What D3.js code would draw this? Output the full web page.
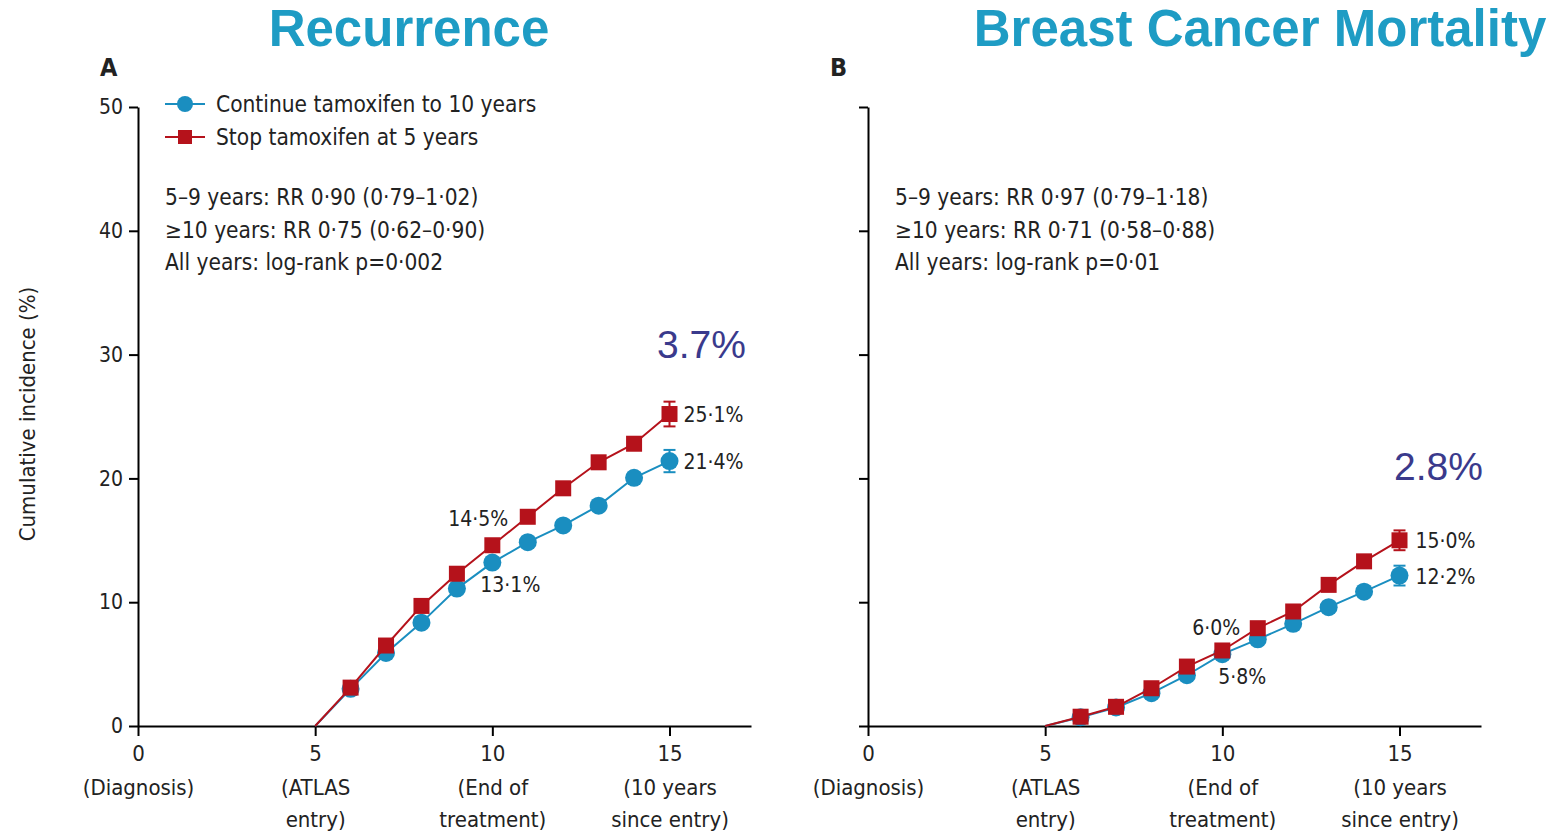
<!DOCTYPE html>
<html>
<head>
<meta charset="utf-8">
<script src="https://cdn.jsdelivr.net/npm/d3@7"></script>
<style>
  body { margin: 0; background: #fff; }
  svg text { font-family: "Liberation Sans Narrow", "DejaVu Sans Condensed", sans-serif; fill: #222; }
  .title { font-family: "Liberation Sans", Arial, sans-serif !important; font-weight: bold; fill: #1e9cc4 !important; }
</style>
</head>
<body>
<div id="viz"></div>
<script>
// years since diagnosis
var years = [5, 6, 7, 8, 9, 10, 11, 12, 13, 14, 15];

// panel A: recurrence (%)
var recContinue = [0, 3.0, 5.9, 8.35, 11.1, 13.2, 14.85, 16.2, 17.8, 20.05, 21.4];
var recStop     = [0, 3.1, 6.5, 9.7, 12.3, 14.6, 16.9, 19.2, 21.3, 22.8, 25.2];

// panel B: breast cancer mortality (%)
var mortContinue = [0, 0.7, 1.5, 2.65, 4.1, 5.8, 7.0, 8.25, 9.6, 10.85, 12.15];
var mortStop     = [0, 0.75, 1.55, 3.05, 4.8, 6.1, 7.9, 9.25, 11.4, 13.3, 15.0];

var yTicks = [0, 10, 20, 30, 40, 50];
var xTicks = [0, 5, 10, 15];
var xTickNotes = [["(Diagnosis)"], ["(ATLAS", "entry)"], ["(End of", "treatment)"], ["(10 years", "since entry)"]];

var blue = "#1a8ec0", red = "#b5121b", navy = "#3a3a8c";

var svg = d3.select("#viz").append("svg")
    .attr("width", 1552)
    .attr("height", 833);

svg.append("text").attr("class", "title")
    .attr("x", 409).attr("y", 46)
    .attr("text-anchor", "middle")
    .style("font-size", "51px")
    .text("Recurrence");

svg.append("text").attr("class", "title")
    .attr("x", 1260).attr("y", 46)
    .attr("text-anchor", "middle")
    .style("font-size", "51px")
    .text("Breast Cancer Mortality");

svg.append("text")
    .attr("transform", "translate(35,414) rotate(-90)")
    .attr("text-anchor", "middle")
    .style("font-size", "22px")
    .text("Cumulative incidence (%)");

function drawPanel(cfg) {
  var x = d3.scaleLinear().domain([0, 17.3]).range([cfg.left, cfg.left + 613]);
  var y = d3.scaleLinear().domain([0, 50]).range([726, 107]);

  var g = svg.append("g");

  g.append("text")
      .attr("x", cfg.left - 38).attr("y", 76)
      .style("font-size", "25px").style("font-weight", "bold")
      .text(cfg.letter);

  // y axis
  var yAxis = g.append("g")
      .attr("transform", "translate(" + cfg.left + ",0)")
      .call(d3.axisLeft(y).tickValues(yTicks).tickSize(9).tickSizeOuter(0).tickPadding(6)
        .tickFormat(cfg.yLabels ? d3.format("d") : ""));
  yAxis.select(".domain").attr("stroke-width", 2);
  yAxis.selectAll(".tick line").attr("stroke-width", 2);
  yAxis.selectAll(".tick text").style("font-size", "21px").style("fill", "#222");

  // x axis
  var xAxis = g.append("g")
      .attr("transform", "translate(0,726)")
      .call(d3.axisBottom(x).tickValues(xTicks).tickSize(10).tickSizeOuter(0).tickPadding(9)
        .tickFormat(d3.format("d")));
  xAxis.select(".domain").attr("stroke-width", 2);
  xAxis.selectAll(".tick line").attr("stroke-width", 2);
  xAxis.selectAll(".tick text").style("font-size", "22px").style("fill", "#222");

  xAxis.selectAll(".tick").each(function(d, i) {
    var t = d3.select(this);
    xTickNotes[i].forEach(function(s, k) {
      t.append("text")
          .attr("y", 69 + k * 32)
          .attr("text-anchor", "middle")
          .style("font-size", "22px")
          .style("fill", "#222")
          .text(s);
    });
  });

  var line = d3.line()
      .x(function(d) { return x(d[0]); })
      .y(function(d) { return y(d[1]); });

  var series = [
    {vals: cfg.stop, color: red, shape: "square", err: cfg.stopErr},
    {vals: cfg.cont, color: blue, shape: "circle", err: cfg.contErr}
  ];
  // draw blue first so red sits on top
  series.slice().reverse().forEach(function(s) {
    var pts = years.map(function(yr, i) { return [yr, s.vals[i]]; });
    g.append("path")
        .datum(pts)
        .attr("fill", "none")
        .attr("stroke", s.color)
        .attr("stroke-width", 2)
        .attr("d", line);
    var last = pts[pts.length - 1];
    // error bar at final point
    var eb = g.append("g").attr("stroke", s.color).attr("stroke-width", 2);
    eb.append("line")
        .attr("x1", x(last[0])).attr("x2", x(last[0]))
        .attr("y1", y(last[1] - s.err)).attr("y2", y(last[1] + s.err));
    [last[1] - s.err, last[1] + s.err].forEach(function(v) {
      eb.append("line")
          .attr("x1", x(last[0]) - 6).attr("x2", x(last[0]) + 6)
          .attr("y1", y(v)).attr("y2", y(v));
    });
    var marks = pts.slice(1);
    if (s.shape === "circle") {
      g.selectAll(null).data(marks).enter().append("circle")
          .attr("cx", function(d) { return x(d[0]); })
          .attr("cy", function(d) { return y(d[1]); })
          .attr("r", 9)
          .attr("fill", s.color);
    } else {
      g.selectAll(null).data(marks).enter().append("rect")
          .attr("x", function(d) { return x(d[0]) - 8; })
          .attr("y", function(d) { return y(d[1]) - 8; })
          .attr("width", 16).attr("height", 16)
          .attr("fill", s.color);
    }
  });

  // value labels
  cfg.labels.forEach(function(l) {
    g.append("text")
        .attr("x", x(l.x) + l.dx).attr("y", y(l.y) + l.dy)
        .attr("text-anchor", l.anchor)
        .style("font-size", "21px")
        .text(l.text);
  });

  // stats block
  cfg.stats.forEach(function(s, i) {
    g.append("text")
        .attr("x", cfg.left + 27).attr("y", 205 + i * 32.5)
        .style("font-size", "22.5px")
        .text(s);
  });

  // absolute difference
  g.append("text")
      .attr("x", x(cfg.diffAt[0])).attr("y", y(cfg.diffAt[1]))
      .attr("text-anchor", "middle")
      .style("font-family", "'Liberation Sans', Arial, sans-serif")
      .style("font-size", "39px")
      .style("fill", navy)
      .text(cfg.diff);

  if (cfg.legend) {
    var legendItems = [
      {text: "Continue tamoxifen to 10 years", color: blue, shape: "circle"},
      {text: "Stop tamoxifen at 5 years", color: red, shape: "square"}
    ];
    legendItems.forEach(function(it, i) {
      var ly = 104 + i * 33, lx = cfg.left + 27;
      g.append("line")
          .attr("x1", lx).attr("x2", lx + 40)
          .attr("y1", ly).attr("y2", ly)
          .attr("stroke", it.color).attr("stroke-width", 2);
      if (it.shape === "circle") {
        g.append("circle").attr("cx", lx + 20).attr("cy", ly).attr("r", 8).attr("fill", it.color);
      } else {
        g.append("rect").attr("x", lx + 13).attr("y", ly - 7).attr("width", 14).attr("height", 14).attr("fill", it.color);
      }
      g.append("text")
          .attr("x", lx + 51).attr("y", ly + 8)
          .style("font-size", "22.5px")
          .text(it.text);
    });
  }
}

drawPanel({
  left: 138, letter: "A", yLabels: true, legend: true,
  cont: recContinue, stop: recStop, contErr: 0.9, stopErr: 1.0,
  stats: ["5–9 years: RR 0·90 (0·79–1·02)", "≥10 years: RR 0·75 (0·62–0·90)", "All years: log-rank p=0·002"],
  diff: "3.7%", diffAt: [15.9, 29.7],
  labels: [
    {text: "25·1%", x: 15, y: 25.2, dx: 14, dy: 8, anchor: "start"},
    {text: "21·4%", x: 15, y: 21.4, dx: 14, dy: 8, anchor: "start"},
    {text: "14·5%", x: 10, y: 14.6, dx: 16, dy: -19, anchor: "end"},
    {text: "13·1%", x: 10, y: 13.2, dx: -12, dy: 29, anchor: "start"}
  ]
});

drawPanel({
  left: 868, letter: "B", yLabels: false, legend: false,
  cont: mortContinue, stop: mortStop, contErr: 0.8, stopErr: 0.8,
  stats: ["5–9 years: RR 0·97 (0·79–1·18)", "≥10 years: RR 0·71 (0·58–0·88)", "All years: log-rank p=0·01"],
  diff: "2.8%", diffAt: [16.1, 19.9],
  labels: [
    {text: "15·0%", x: 15, y: 15.0, dx: 16, dy: 8, anchor: "start"},
    {text: "12·2%", x: 15, y: 12.15, dx: 16, dy: 8, anchor: "start"},
    {text: "6·0%", x: 10, y: 6.1, dx: 18, dy: -15, anchor: "end"},
    {text: "5·8%", x: 10, y: 5.8, dx: -4, dy: 30, anchor: "start"}
  ]
});
</script>
</body>
</html>
